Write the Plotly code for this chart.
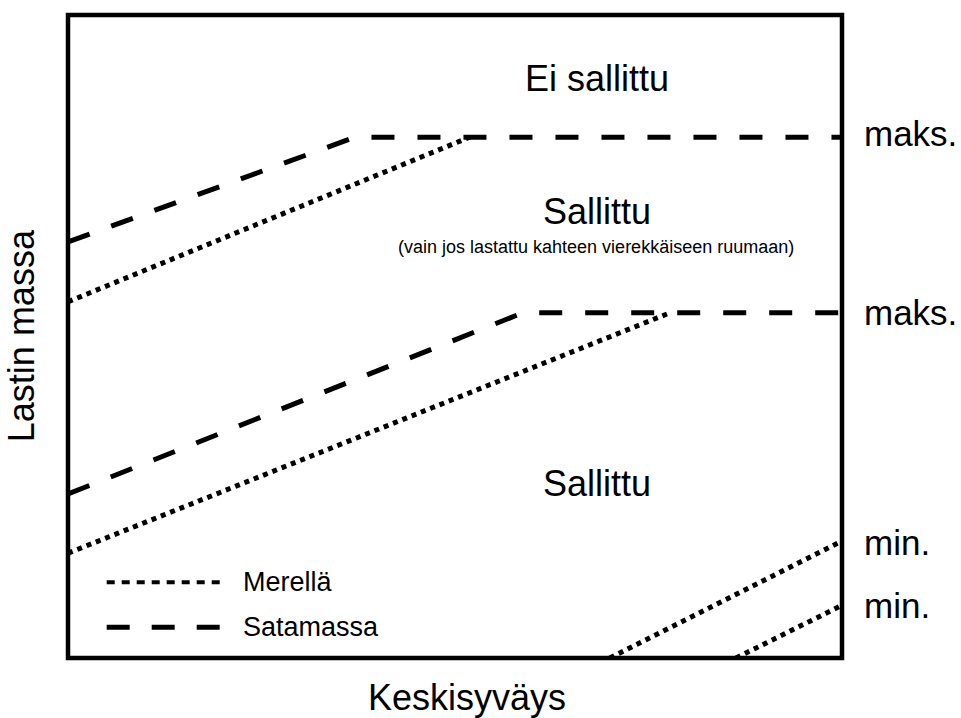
import plotly.graph_objects as go

# ---- data (relative units, 0-100 on both axes) ----
# Satamassa (in port) limits
port_upper_x = [0, 37.1, 100]
port_upper_y = [64.7, 81.0, 81.0]
port_lower_x = [0, 58.8, 100]
port_lower_y = [25.5, 53.7, 53.7]
# Merellä (at sea) limits
sea_upper_x = [0, 51.9]
sea_upper_y = [55.4, 81.0]
sea_lower_x = [0, 77.8]
sea_lower_y = [16.3, 53.7]
# minimum limits (at sea)
sea_min1_x = [70.0, 100]
sea_min1_y = [0, 18.2]
sea_min2_x = [86.3, 100]
sea_min2_y = [0, 8.2]

legend_labels = ["Merellä", "Satamassa"]
right_labels = ["maks.", "maks.", "min.", "min."]
right_label_y = [81.5, 53.7, 17.9, 8.1]
region_labels = ["Ei sallittu", "Sallittu", "Sallittu"]
region_label_y = [90.2, 69.4, 27.1]
subtitle = "(vain jos lastattu kahteen vierekkäiseen ruumaan)"
x_title = "Keskisyväys"
y_title = "Lastin massa"

FONT = "Liberation Sans, Arial, sans-serif"
DASH = "23px,23px"
DOT = "5px,5px"

fig = go.Figure()

def add_line(x, y, dash, width, name):
    fig.add_trace(go.Scatter(x=x, y=y, mode="lines", name=name, showlegend=False,
                             line=dict(color="black", width=width, dash=dash),
                             hoverinfo="skip"))

add_line(port_upper_x, port_upper_y, DASH, 5, "Satamassa")
add_line(port_lower_x, port_lower_y, DASH, 5, "Satamassa")
add_line(sea_upper_x, sea_upper_y, DOT, 5, "Merellä")
add_line(sea_lower_x, sea_lower_y, DOT, 5, "Merellä")
add_line(sea_min1_x, sea_min1_y, DOT, 5, "Merellä")
add_line(sea_min2_x, sea_min2_y, DOT, 5, "Merellä")

annotations = []
big = dict(family=FONT, size=36, color="black")
side = dict(family=FONT, size=35, color="black")

for txt, yy in zip(region_labels, region_label_y):
    annotations.append(dict(x=68.3, y=yy, xref="x", yref="y", text=txt, showarrow=False,
                            font=big, xanchor="center", yanchor="middle"))
annotations.append(dict(x=68.2, y=63.9, xref="x", yref="y", text=subtitle, showarrow=False,
                        font=dict(family=FONT, size=18, color="black"),
                        xanchor="center", yanchor="middle"))
for txt, yy in zip(right_labels, right_label_y):
    annotations.append(dict(x=1.026, y=yy / 100, xref="paper", yref="paper", text=txt,
                            showarrow=False, font=side, xanchor="left", yanchor="middle"))

# legend (drawn inside the plot box)
leg_y = [11.8, 4.8]
leg_dash = ["8px,7px", "23px,22px"]
leg_width = [4, 5]
shapes = []
for lab, yy, d, w in zip(legend_labels, leg_y, leg_dash, leg_width):
    shapes.append(dict(type="line", xref="x", yref="y", x0=5.0, x1=19.9, y0=yy, y1=yy,
                       line=dict(color="black", width=w, dash=d)))
    annotations.append(dict(x=22.4, y=yy, xref="x", yref="y", text=lab, showarrow=False,
                            font=dict(family=FONT, size=27, color="black"),
                            xanchor="left", yanchor="middle"))

# axis titles
annotations.append(dict(x=0.516, y=-0.061, xref="paper", yref="paper", text=x_title,
                        showarrow=False, font=big, xanchor="center", yanchor="middle"))
annotations.append(dict(x=-0.059, y=0.501, xref="paper", yref="paper", text=y_title,
                        showarrow=False, font=big, xanchor="center", yanchor="middle",
                        textangle=-90))

# plot frame
shapes.append(dict(type="rect", xref="paper", yref="paper", x0=0, x1=1, y0=0, y1=1,
                   line=dict(color="black", width=4.5), layer="above"))

fig.update_layout(
    width=961, height=718,
    margin=dict(l=68, r=119, t=15, b=60),
    paper_bgcolor="white", plot_bgcolor="white",
    showlegend=False,
    annotations=annotations,
    shapes=shapes,
    xaxis=dict(range=[0, 100], showgrid=False, zeroline=False, showticklabels=False,
               ticks="", showline=False, fixedrange=True),
    yaxis=dict(range=[0, 100], showgrid=False, zeroline=False, showticklabels=False,
               ticks="", showline=False, fixedrange=True),
)

# remove the browser's default 8px page margin so the figure fills the window
fig.write_html("out.html", config={"displayModeBar": False},
               post_script="document.body.style.margin='0px';")
